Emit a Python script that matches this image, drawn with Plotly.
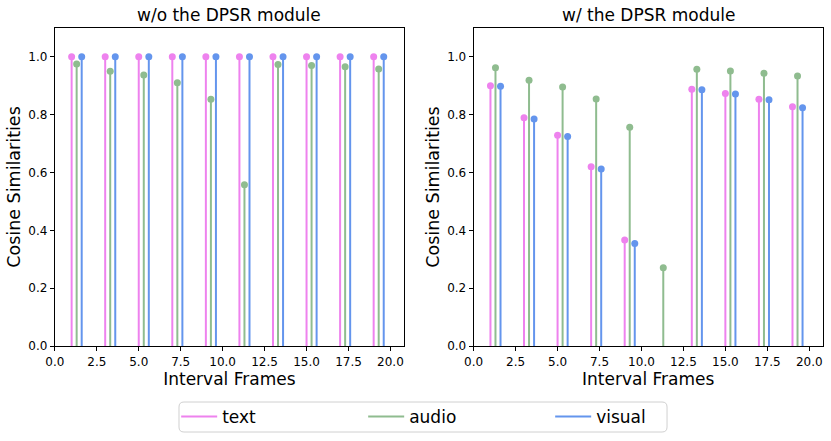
import plotly.graph_objects as go

# interval frames (text stems), audio/visual are shifted to the right
frames = [1, 3, 5, 7, 9, 11, 13, 15, 17, 19]
offsets = {"text": 0.0, "audio": 0.3, "visual": 0.6}

# w/o the DPSR module
wo_text = [1.0, 1.0, 1.0, 1.0, 1.0, 1.0, 1.0, 1.0, 1.0, 1.0]
wo_audio = [0.975, 0.95, 0.937, 0.91, 0.853, 0.558, 0.973, 0.97, 0.965, 0.958]
wo_visual = [1.0, 1.0, 1.0, 1.0, 1.0, 1.0, 1.0, 1.0, 1.0, 1.0]

# w/ the DPSR module
w_text = [0.900, 0.789, 0.729, 0.620, 0.367, 0.0, 0.888, 0.873, 0.853, 0.827]
w_audio = [0.962, 0.919, 0.895, 0.854, 0.756, 0.271, 0.957, 0.951, 0.943, 0.933]
w_visual = [0.898, 0.785, 0.724, 0.612, 0.355, 0.0, 0.886, 0.871, 0.851, 0.824]

colors = {"text": "#EE82EE", "audio": "#8FBC8F", "visual": "#6495ED"}
titles = ["w/o the DPSR module", "w/ the DPSR module"]
panels = [
    {"text": wo_text, "audio": wo_audio, "visual": wo_visual},
    {"text": w_text, "audio": w_audio, "visual": w_visual},
]

fig = go.Figure()
font = "DejaVu Sans, Liberation Sans, sans-serif"

for p, data in enumerate(panels):
    xa = "x" if p == 0 else "x2"
    ya = "y" if p == 0 else "y2"
    for name in ["text", "audio", "visual"]:
        vals = data[name]
        xs = [f + offsets[name] for f in frames]
        # stems as one line trace with gaps
        sx, sy = [], []
        for x, v in zip(xs, vals):
            sx += [x, x, None]
            sy += [0, v, None]
        fig.add_trace(go.Scatter(
            x=sx, y=sy, mode="lines", name=name,
            line=dict(color=colors[name], width=2),
            legendgroup=name, showlegend=(p == 0),
            xaxis=xa, yaxis=ya, hoverinfo="skip",
        ))
        fig.add_trace(go.Scatter(
            x=xs, y=vals, mode="markers", name=name,
            marker=dict(color=colors[name], size=[7 if v > 0 else 0 for v in vals],
                        opacity=1, line=dict(width=0)),
            legendgroup=name, showlegend=False,
            xaxis=xa, yaxis=ya,
        ))

axis_common = dict(
    showgrid=False, zeroline=False, showline=True, linecolor="black", linewidth=1,
    mirror=True, ticks="outside", ticklen=4, tickcolor="black", automargin=False,
    tickfont=dict(size=12, color="black", family=font),
)
xdom = [[0.066, 0.486], [0.570, 0.990]]
ydom = [0.215, 0.937]
for p in range(2):
    sfx = "" if p == 0 else "2"
    fig.update_layout(**{
        "xaxis" + sfx: dict(
            axis_common, domain=xdom[p], range=[0, 20.8],
            tickvals=[0, 2.5, 5, 7.5, 10, 12.5, 15, 17.5, 20],
            ticktext=["0.0", "2.5", "5.0", "7.5", "10.0", "12.5", "15.0", "17.5", "20.0"],
            title=dict(text="Interval Frames", font=dict(size=17, color="black", family=font), standoff=5),
            anchor="y" + sfx,
        ),
        "yaxis" + sfx: dict(
            axis_common, domain=ydom, range=[0, 1.1],
            tickvals=[0, 0.2, 0.4, 0.6, 0.8, 1.0],
            ticktext=["0.0", "0.2", "0.4", "0.6", "0.8", "1.0"],
            title=dict(text="Cosine Similarities", font=dict(size=17.5, color="black", family=font), standoff=3),
            anchor="x" + sfx,
        ),
    })
    fig.add_annotation(
        text=titles[p], x=(xdom[p][0] + xdom[p][1]) / 2, y=0.966,
        xref="paper", yref="paper", showarrow=False, xanchor="center", yanchor="middle",
        font=dict(size=17, color="black", family=font),
    )

# legend frame (rounded, light grey) drawn separately
x0, x1, y0, y1, r = 0.2154, 0.8027, 0.0204, 0.0884, 0.006
ry = r * 831 / 441
fig.add_shape(
    type="path", xref="paper", yref="paper", line=dict(color="#d0d0d0", width=1),
    path=(f"M {x0 + r},{y0} L {x1 - r},{y0} Q {x1},{y0} {x1},{y0 + ry} "
          f"L {x1},{y1 - ry} Q {x1},{y1} {x1 - r},{y1} L {x0 + r},{y1} "
          f"Q {x0},{y1} {x0},{y1 - ry} L {x0},{y0 + ry} Q {x0},{y0} {x0 + r},{y0} Z"),
)

fig.update_layout(
    width=831, height=441,
    margin=dict(l=0, r=0, t=0, b=0),
    paper_bgcolor="white", plot_bgcolor="white",
    legend=dict(
        orientation="h", x=0.212, y=0.0544, xanchor="left", yanchor="middle",
        borderwidth=0, entrywidth=136, itemwidth=36, bgcolor="rgba(0,0,0,0)",
        font=dict(size=17, color="black", family=font),
    ),
)

fig.write_html("out.html", config={"displayModeBar": False},
               post_script="document.body.style.margin='0';")
